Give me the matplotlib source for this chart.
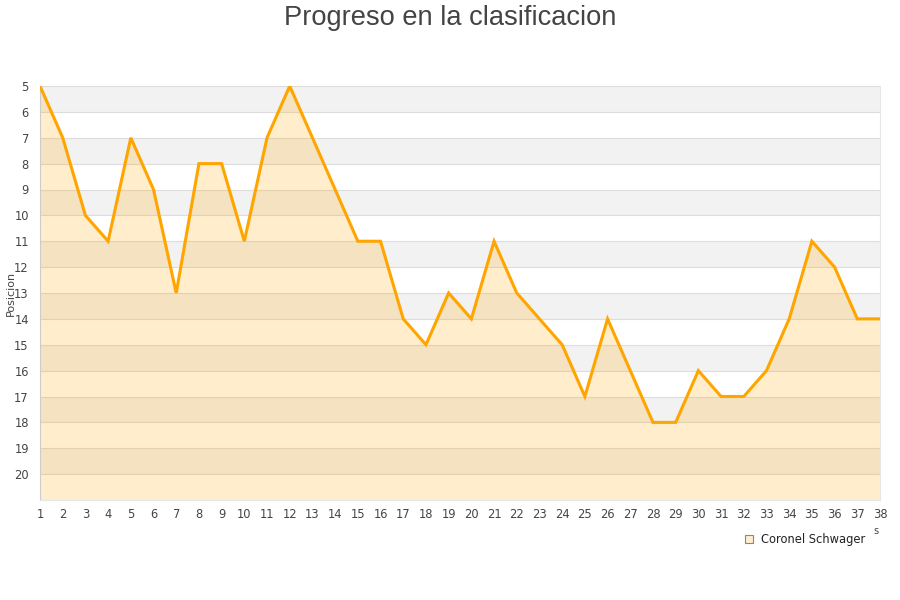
import matplotlib
matplotlib.use('Agg')
import matplotlib.pyplot as plt
from matplotlib.lines import Line2D

# Data
jornadas = list(range(1, 39))
posiciones = [5, 7, 10, 11, 7, 9, 13, 8, 8, 11,
              7, 5, 7, 9, 11, 11, 14, 15, 13, 14,
              11, 13, 14, 15, 17, 14, 16, 18, 18, 16,
              17, 17, 16, 14, 11, 12, 14, 14]
y_ticks = list(range(5, 21))
equipo = 'Coronel Schwager'

LINE = '#ffa500'
TEXT = '#444444'

fig = plt.figure(figsize=(9, 6), dpi=100)
ax = fig.add_axes([40 / 900, 100 / 600, 840 / 900, 414 / 600])

# Alternating bands
for k in range(5, 21, 2):
    ax.axhspan(k, k + 1, color='#f2f2f2', zorder=0, linewidth=0)

ax.set_xlim(1, 38)
ax.set_ylim(21, 5)

# Grid
ax.set_yticks(y_ticks)
ax.grid(axis='y', color='#dddddd', linewidth=0.8, zorder=1)
ax.grid(axis='x', visible=False)

# Fill + line
ax.fill_between(jornadas, posiciones, 21, color=LINE, alpha=0.2,
                linewidth=0, zorder=2)
ax.plot(jornadas, posiciones, color=LINE, linewidth=2.2, zorder=3,
        solid_joinstyle='miter')

ax.set_xticks(jornadas)
ax.tick_params(axis='both', length=0, labelsize=8.3, colors=TEXT, pad=6)
ax.tick_params(axis='y', pad=8)

ax.spines['left'].set_color('#cccccc')
for side in ['right', 'bottom']:
    ax.spines[side].set_color('#e6e6e6')
ax.spines['top'].set_visible(False)

fig.text(11 / 900, 1 - 293 / 600, 'Posicion', rotation=90, ha='center',
         va='center', fontsize=8, color=TEXT)

fig.text(0.5, 1 - 18 / 600, 'Progreso en la clasificacion', ha='center',
         va='center', fontsize=19.6, color=TEXT, family='Liberation Sans')

handle = Line2D([], [], marker='s', linestyle='none', markersize=6,
                markerfacecolor='#ffedcc', markeredgecolor='#888888',
                markeredgewidth=0.8)
fig.legend([handle], [equipo], loc='center left',
           bbox_to_anchor=(739 / 900, 1 - 540 / 600), frameon=False,
           fontsize=8.3, handletextpad=0.5, labelcolor='#222222',
           borderaxespad=0, handlelength=1.0)

fig.text(876 / 900, 1 - 531 / 600, 's', ha='center', va='center',
         fontsize=7, color=TEXT)

fig.savefig('out.png', dpi=100)
